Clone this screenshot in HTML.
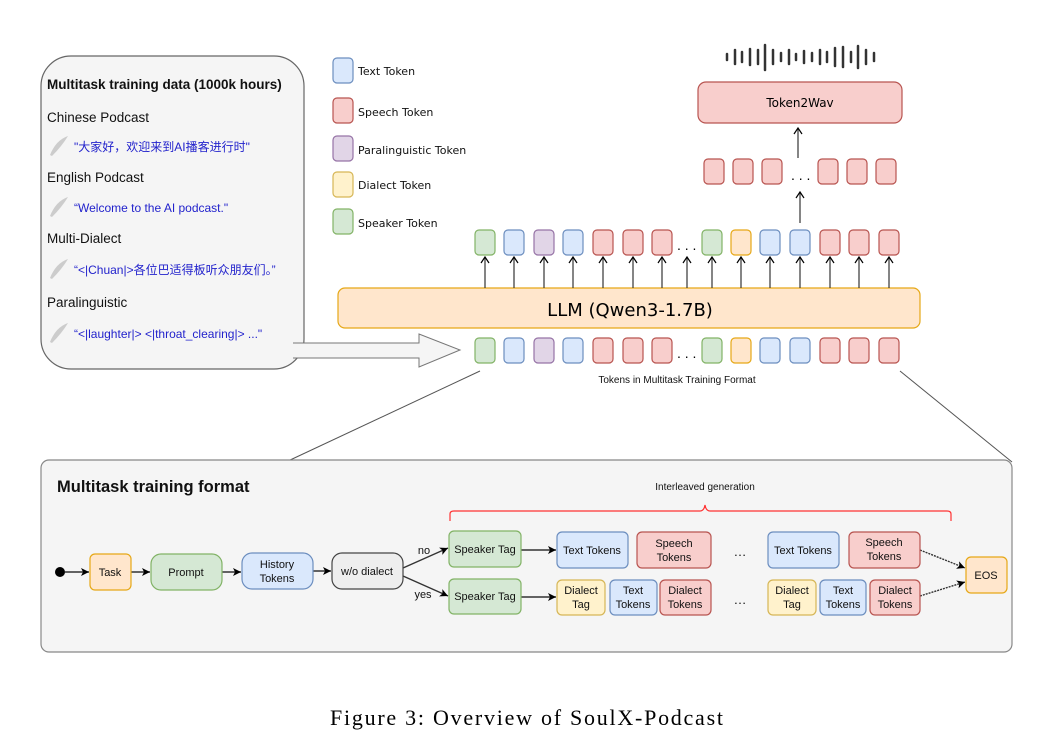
<!DOCTYPE html>
<html><head><meta charset="utf-8"><style>
body{margin:0;background:#fff;}
svg text{font-family:"Liberation Sans","Noto Sans CJK SC",sans-serif;}
svg text.m{font-family:"DejaVu Sans",sans-serif;}
</style></head><body>
<svg width="1052" height="744" viewBox="0 0 1052 744" xmlns="http://www.w3.org/2000/svg">
<defs>
<marker id="a" markerWidth="10" markerHeight="10" refX="9" refY="5" orient="auto" markerUnits="userSpaceOnUse"><path d="M1,1 L9,5 L1,9 L3,5z" fill="#000"/></marker>
<marker id="o" markerWidth="10" markerHeight="10" refX="8" refY="5" orient="auto" markerUnits="userSpaceOnUse"><path d="M2,1 L8,5 L2,9" fill="none" stroke="#000" stroke-width="1.2"/></marker>
</defs>
<rect x="41" y="56" width="263" height="313" rx="30" fill="#f5f5f5" stroke="#666" stroke-width="1.2"/>
<text x="47" y="89" font-size="13.5" font-weight="bold" fill="#111">Multitask training data (1000k hours)</text>
<g font-size="13.5" fill="#111">
<text x="47" y="122">Chinese Podcast</text>
<text x="47" y="182">English Podcast</text>
<text x="47" y="243">Multi-Dialect</text>
<text x="47" y="307">Paralinguistic</text>
</g>
<g font-size="12" fill="#2222cc">
<text x="74" y="151">"大家好，欢迎来到AI播客进行时"</text>
<text x="74" y="212">“Welcome to the AI podcast."</text>
<text x="74" y="274">“&lt;|Chuan|&gt;各位巴适得板听众朋友们。”</text>
<text x="74" y="338">“&lt;|laughter|&gt;  &lt;|throat_clearing|&gt; ..."</text>
</g>
<g fill="#ccc">
<path d="M50,155 Q56,140 68,136 Q62,146 52,156z"/>
<path d="M50,216 Q56,201 68,197 Q62,207 52,217z"/>
<path d="M50,278 Q56,263 68,259 Q62,269 52,279z"/>
<path d="M50,342 Q56,327 68,323 Q62,333 52,343z"/>
</g>
<path d="M293,343 L419,343 L419,334 L460,350 L419,367 L419,358 L293,358" fill="#f5f5f5" stroke="#777" stroke-width="1"/>
<g stroke-width="1.2">
<rect x="333" y="58" width="20" height="25" rx="4" fill="#dae8fc" stroke="#6c8ebf"/>
<rect x="333" y="98" width="20" height="25" rx="4" fill="#f8cecc" stroke="#b85450"/>
<rect x="333" y="136" width="20" height="25" rx="4" fill="#e1d5e7" stroke="#9673a6"/>
<rect x="333" y="172" width="20" height="25" rx="4" fill="#fff2cc" stroke="#d6b656"/>
<rect x="333" y="209" width="20" height="25" rx="4" fill="#d5e8d4" stroke="#82b366"/>
</g>
<g font-size="11" fill="#111">
<text class="m" x="358" y="75">Text Token</text>
<text class="m" x="358" y="116">Speech Token</text>
<text class="m" x="358" y="154">Paralinguistic Token</text>
<text class="m" x="358" y="189">Dialect Token</text>
<text class="m" x="358" y="227">Speaker Token</text>
</g>
<g stroke="#333" stroke-width="2.5" stroke-linecap="round">
<line x1="727" y1="54" x2="727" y2="60"/><line x1="735" y1="50" x2="735" y2="64"/><line x1="742" y1="52" x2="742" y2="62"/><line x1="750" y1="49" x2="750" y2="65"/><line x1="758" y1="50" x2="758" y2="64"/><line x1="765" y1="45" x2="765" y2="70"/><line x1="773" y1="50" x2="773" y2="64"/><line x1="781" y1="53" x2="781" y2="61"/><line x1="789" y1="50" x2="789" y2="64"/><line x1="796" y1="54" x2="796" y2="60"/><line x1="804" y1="51" x2="804" y2="63"/><line x1="812" y1="53" x2="812" y2="61"/><line x1="820" y1="50" x2="820" y2="64"/><line x1="827" y1="52" x2="827" y2="62"/><line x1="835" y1="48" x2="835" y2="66"/><line x1="843" y1="47" x2="843" y2="67"/><line x1="851" y1="52" x2="851" y2="62"/><line x1="858" y1="46" x2="858" y2="68"/><line x1="866" y1="50" x2="866" y2="64"/><line x1="874" y1="53" x2="874" y2="61"/>
</g>
<rect x="698" y="82" width="204" height="41" rx="8" fill="#f8cecc" stroke="#b85450" stroke-width="1.2"/>
<text class="m" x="800" y="107" font-size="12" text-anchor="middle">Token2Wav</text>
<g stroke="#333" stroke-width="1.2">
<line x1="798" y1="158" x2="798" y2="128" marker-end="url(#o)"/>
<line x1="800" y1="223" x2="800" y2="192" marker-end="url(#o)"/>
</g>
<g fill="#f8cecc" stroke="#b85450" stroke-width="1.2">
<rect x="704" y="159" width="20" height="25" rx="4"/><rect x="733" y="159" width="20" height="25" rx="4"/><rect x="762" y="159" width="20" height="25" rx="4"/>
<rect x="818" y="159" width="20" height="25" rx="4"/><rect x="847" y="159" width="20" height="25" rx="4"/><rect x="876" y="159" width="20" height="25" rx="4"/>
</g>
<text x="791" y="180" font-size="14">. . .</text>
<rect x="338" y="288" width="582" height="40" rx="7" fill="#ffe6cc" stroke="#e6a817" stroke-width="1.2"/>
<text class="m" x="630" y="316" font-size="18" text-anchor="middle">LLM (Qwen3-1.7B)</text>
<g id="row">
<g stroke-width="1.2">
<rect x="475" y="230" width="20" height="25" rx="4" fill="#d5e8d4" stroke="#82b366"/>
<rect x="504" y="230" width="20" height="25" rx="4" fill="#dae8fc" stroke="#6c8ebf"/>
<rect x="534" y="230" width="20" height="25" rx="4" fill="#e1d5e7" stroke="#9673a6"/>
<rect x="563" y="230" width="20" height="25" rx="4" fill="#dae8fc" stroke="#6c8ebf"/>
<rect x="593" y="230" width="20" height="25" rx="4" fill="#f8cecc" stroke="#b85450"/>
<rect x="623" y="230" width="20" height="25" rx="4" fill="#f8cecc" stroke="#b85450"/>
<rect x="652" y="230" width="20" height="25" rx="4" fill="#f8cecc" stroke="#b85450"/>
<rect x="702" y="230" width="20" height="25" rx="4" fill="#d5e8d4" stroke="#82b366"/>
<rect x="731" y="230" width="20" height="25" rx="4" fill="#ffe6cc" stroke="#e6a817"/>
<rect x="760" y="230" width="20" height="25" rx="4" fill="#dae8fc" stroke="#6c8ebf"/>
<rect x="790" y="230" width="20" height="25" rx="4" fill="#dae8fc" stroke="#6c8ebf"/>
<rect x="820" y="230" width="20" height="25" rx="4" fill="#f8cecc" stroke="#b85450"/>
<rect x="849" y="230" width="20" height="25" rx="4" fill="#f8cecc" stroke="#b85450"/>
<rect x="879" y="230" width="20" height="25" rx="4" fill="#f8cecc" stroke="#b85450"/>
</g>
<text x="677" y="250" font-size="14">. . .</text>
</g>
<use href="#row" y="108"/>
<g stroke="#333" stroke-width="1.2">
<line x1="485" y1="288" x2="485" y2="257" marker-end="url(#o)"/><line x1="514" y1="288" x2="514" y2="257" marker-end="url(#o)"/><line x1="544" y1="288" x2="544" y2="257" marker-end="url(#o)"/><line x1="573" y1="288" x2="573" y2="257" marker-end="url(#o)"/><line x1="603" y1="288" x2="603" y2="257" marker-end="url(#o)"/><line x1="633" y1="288" x2="633" y2="257" marker-end="url(#o)"/><line x1="662" y1="288" x2="662" y2="257" marker-end="url(#o)"/><line x1="687" y1="288" x2="687" y2="257" marker-end="url(#o)"/><line x1="712" y1="288" x2="712" y2="257" marker-end="url(#o)"/><line x1="741" y1="288" x2="741" y2="257" marker-end="url(#o)"/><line x1="770" y1="288" x2="770" y2="257" marker-end="url(#o)"/><line x1="800" y1="288" x2="800" y2="257" marker-end="url(#o)"/><line x1="830" y1="288" x2="830" y2="257" marker-end="url(#o)"/><line x1="859" y1="288" x2="859" y2="257" marker-end="url(#o)"/><line x1="889" y1="288" x2="889" y2="257" marker-end="url(#o)"/>
</g>
<text x="677" y="383" font-size="10" text-anchor="middle" fill="#111">Tokens in Multitask Training Format</text>
<line x1="288" y1="461" x2="480" y2="371" stroke="#555" stroke-width="1"/>
<line x1="900" y1="371" x2="1012" y2="462" stroke="#555" stroke-width="1"/>
<rect x="41" y="460" width="971" height="192" rx="8" fill="#f5f5f5" stroke="#888" stroke-width="1.2"/>
<text x="57" y="492" font-size="16.5" font-weight="bold" fill="#111">Multitask training format</text>
<text x="705" y="490" font-size="10" text-anchor="middle" fill="#111">Interleaved generation</text>
<path d="M450,521 L450,514 Q450,511 454,511 L700,511 Q704,511 705,505 Q706,511 710,511 L947,511 Q951,511 951,514 L951,521" fill="none" stroke="#f33" stroke-width="1.2"/>
<circle cx="60" cy="572" r="5" fill="#000"/>
<g stroke="#333" stroke-width="1.4">
<line x1="65" y1="572" x2="89" y2="572" marker-end="url(#a)"/>
<line x1="131" y1="572" x2="150" y2="572" marker-end="url(#a)"/>
<line x1="222" y1="572" x2="241" y2="572" marker-end="url(#a)"/>
<line x1="313" y1="571" x2="331" y2="571" marker-end="url(#a)"/>
<line x1="403" y1="568" x2="448" y2="548" marker-end="url(#a)"/>
<line x1="403" y1="576" x2="448" y2="596" marker-end="url(#a)"/>
<line x1="520" y1="550" x2="556" y2="550" marker-end="url(#a)"/>
<line x1="520" y1="597" x2="556" y2="597" marker-end="url(#a)"/>
<line x1="920" y1="550" x2="965" y2="568" stroke-dasharray="2,1" marker-end="url(#a)"/>
<line x1="920" y1="596" x2="965" y2="582" stroke-dasharray="2,1" marker-end="url(#a)"/>
</g>
<g stroke-width="1.2">
<rect x="90" y="554" width="41" height="36" rx="5" fill="#ffe6cc" stroke="#e6a817"/>
<rect x="151" y="554" width="71" height="36" rx="10" fill="#d5e8d4" stroke="#82b366"/>
<rect x="242" y="553" width="71" height="36" rx="10" fill="#dae8fc" stroke="#6c8ebf"/>
<rect x="332" y="553" width="71" height="36" rx="10" fill="#eeeeee" stroke="#444"/>
<rect x="449" y="531" width="72" height="36" rx="5" fill="#d5e8d4" stroke="#82b366"/>
<rect x="449" y="579" width="72" height="35" rx="5" fill="#d5e8d4" stroke="#82b366"/>
<rect x="557" y="532" width="71" height="36" rx="5" fill="#dae8fc" stroke="#6c8ebf"/>
<rect x="637" y="532" width="74" height="36" rx="5" fill="#f8cecc" stroke="#b85450"/>
<rect x="768" y="532" width="71" height="36" rx="5" fill="#dae8fc" stroke="#6c8ebf"/>
<rect x="849" y="532" width="71" height="36" rx="5" fill="#f8cecc" stroke="#b85450"/>
<rect x="557" y="580" width="48" height="35" rx="5" fill="#fff2cc" stroke="#d6b656"/>
<rect x="610" y="580" width="47" height="35" rx="5" fill="#dae8fc" stroke="#6c8ebf"/>
<rect x="660" y="580" width="51" height="35" rx="5" fill="#f8cecc" stroke="#b85450"/>
<rect x="768" y="580" width="48" height="35" rx="5" fill="#fff2cc" stroke="#d6b656"/>
<rect x="820" y="580" width="46" height="35" rx="5" fill="#dae8fc" stroke="#6c8ebf"/>
<rect x="870" y="580" width="50" height="35" rx="5" fill="#f8cecc" stroke="#b85450"/>
<rect x="966" y="557" width="41" height="36" rx="5" fill="#ffe6cc" stroke="#e6a817"/>
</g>
<g font-size="11" fill="#111" text-anchor="middle">
<text x="110" y="576">Task</text>
<text x="186" y="576">Prompt</text>
<text x="277" y="568">History</text><text x="277" y="582">Tokens</text>
<text x="367" y="575">w/o dialect</text>
<text x="485" y="553">Speaker Tag</text>
<text x="485" y="600">Speaker Tag</text>
<text x="592" y="554">Text Tokens</text>
<text x="674" y="547">Speech</text><text x="674" y="561">Tokens</text>
<text x="803" y="554">Text Tokens</text>
<text x="884" y="546">Speech</text><text x="884" y="560">Tokens</text>
<text x="581" y="594">Dialect</text><text x="581" y="608">Tag</text>
<text x="633" y="594">Text</text><text x="633" y="608">Tokens</text>
<text x="685" y="594">Dialect</text><text x="685" y="608">Tokens</text>
<text x="792" y="594">Dialect</text><text x="792" y="608">Tag</text>
<text x="843" y="594">Text</text><text x="843" y="608">Tokens</text>
<text x="895" y="594">Dialect</text><text x="895" y="608">Tokens</text>
<text x="986" y="579">EOS</text>
<text x="424" y="554">no</text>
<text x="423" y="598">yes</text>
<text x="740" y="556" font-size="13">…</text>
<text x="740" y="604" font-size="13">…</text>
</g>
<text x="330" y="725" font-size="22" textLength="393" lengthAdjust="spacing" style="font-family:'Liberation Serif',serif">Figure 3: Overview of SoulX-Podcast</text>
</svg>
</body></html>
